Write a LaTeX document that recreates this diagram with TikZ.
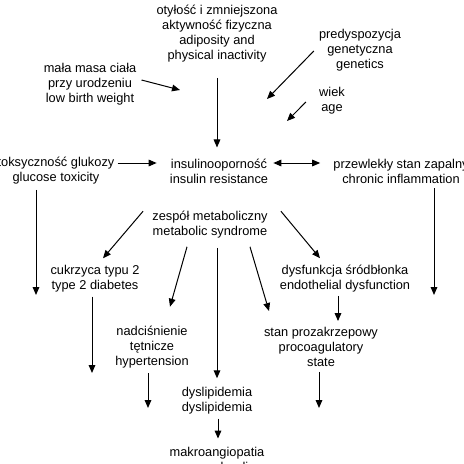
\documentclass[tikz,border=0pt]{standalone}
\usepackage{fontspec}
\setmainfont{Liberation Sans}
\usetikzlibrary{arrows.meta, calc}
\tikzset{
    lbl/.style={align=center, inner sep=0pt, font=\fontsize{9.6}{11.25}\selectfont},
    arrow/.style={line width=0.75pt, -{Triangle[length=6pt,width=5pt]}},
    dblarrow/.style={line width=0.75pt, {Triangle[length=6pt,width=5pt]}-{Triangle[length=6pt,width=5pt]}}
}

\begin{document}
\begin{tikzpicture}[x=0.75pt, y=-0.75pt]
    \useasboundingbox (0,0) rectangle (464,464);
    \clip (0,0) rectangle (464,464);

    % Causes
    \node[lbl] (obes) at (217,34) {otyłość i zmniejszona\\aktywność fizyczna\\adiposity and\\physical inactivity};
    \node[lbl] (lbw) at (90,84) {mała masa ciała\\przy urodzeniu\\low birth weight};
    \node[lbl] (gen) at (360,50) {predyspozycja\\genetyczna\\genetics};
    \node[lbl] (age) at (332,101) {wiek\\age};

    % Middle row
    \node[lbl] (gluc) at (56,171) {toksyczność glukozy\\glucose toxicity};
    \node[lbl] (ir) at (219,171) {insulinooporność\\insulin resistance};
    \node[lbl] (infl) at (401,171) {przewlekły stan zapalny\\chronic inflammation};

    % Consequences
    \node[lbl] (mets) at (210,225) {zespół metaboliczny\\metabolic syndrome};
    \node[lbl] (dm) at (95,279) {cukrzyca typu 2\\type 2 diabetes};
    \node[lbl] (endo) at (345,279) {dysfunkcja śródbłonka\\endothelial dysfunction};
    \node[lbl] (htn) at (152,347) {nadciśnienie\\tętnicze\\hypertension};
    \node[lbl] (proc) at (321,347) {stan prozakrzepowy\\procoagulatory\\state};
    \node[lbl] (dysl) at (217,401) {dyslipidemia\\dyslipidemia};
    \node[lbl] (macro) at (217,459) {makroangiopatia\\macrovascular disease};

    % Free arrow ends
    \coordinate (lbwend) at (180,90);
    \coordinate (genend) at (267,99);
    \coordinate (ageend) at (287,121);
    \coordinate (glucend) at (36,295);
    \coordinate (inflend) at (434,295);
    \coordinate (dmend) at (92,373);
    \coordinate (htnend) at (148,408);
    \coordinate (procend) at (319,408);

    % Arrows
    \draw[arrow] ($(lbw.east)+(5,-4)$) -- (lbwend);
    \draw[arrow] ($(obes.south)+(0,15)$) -- ($(obes.south |- ir.north)+(0,-11)$);
    \draw[arrow] ($(gen.west)+(-5,1)$) -- (genend);
    \draw[arrow] ($(age.west)+(-13,1)$) -- (ageend);
    \draw[arrow] ($(gluc.east)+(3,-8)$) -- ($(ir.west)+(-13,-8)$);
    \draw[dblarrow] ($(ir.east)+(5,-8)$) -- ($(infl.west)+(-13,-8)$);
    \draw[arrow] ($(glucend |- gluc.south)+(0,5)$) -- (glucend);
    \draw[arrow] ($(inflend |- infl.south)+(0,5)$) -- (inflend);
    \draw[arrow] ($(mets.north west)+(-9,0)$) -- ($(dm.north)+(8,-7)$);
    \draw[arrow] ($(mets.north east)+(13,0)$) -- ($(endo.north)+(-25,-7)$);
    \draw[arrow] ($(mets.south)+(-23,8)$) -- ($(htn.north)+(18,-19)$);
    \draw[arrow] ($(mets.south)+(7,9)$) -- ($(dysl.north)+(0,-9)$);
    \draw[arrow] ($(mets.south)+(40,8)$) -- ($(proc.north)+(-52,-16)$);
    \draw[arrow] ($(dmend |- dm.south)+(0,4)$) -- (dmend);
    \draw[arrow] ($(endo.south)+(-7,3)$) -- ($(proc.north)+(17,-6)$);
    \draw[arrow] ($(htnend |- htn.south)+(0,5)$) -- (htnend);
    \draw[arrow] ($(procend |- proc.south)+(0,5)$) -- (procend);
    \draw[arrow] ($(dysl.south)+(1,4)$) -- ($(macro.north)+(1,-8)$);
\end{tikzpicture}
\end{document}
